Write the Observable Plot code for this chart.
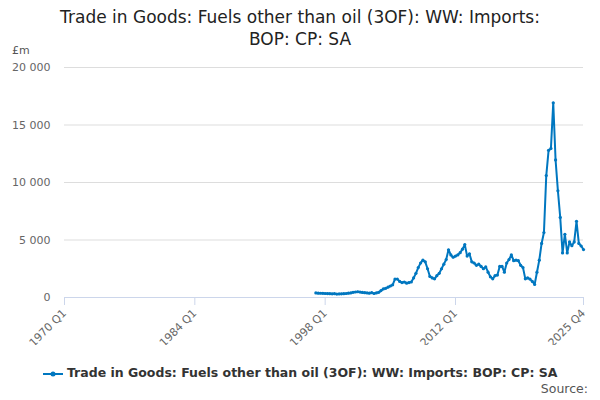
<!DOCTYPE html>
<html><head><meta charset="utf-8">
<script src="https://cdn.jsdelivr.net/npm/d3@7"></script>
<script src="https://cdn.jsdelivr.net/npm/@observablehq/plot@0.6"></script>
<style>
body{margin:0;font-family:"DejaVu Sans",sans-serif;background:#fff;width:600px;height:400px;overflow:hidden;position:relative}
#title{height:55px;text-align:center;font-size:17px;line-height:22px;color:#222;padding-top:6px;box-sizing:border-box}
#legend{position:absolute;top:365px;left:0;width:600px;text-align:center;font-size:12.5px;font-weight:bold;color:#333}
#source{position:absolute;top:381px;right:12px;font-size:12.5px;color:#555}
#unit{position:absolute;top:44px;left:12px;font-size:11px;color:#555}
</style></head><body>
<div id="title">Trade in Goods: Fuels other than oil (3OF): WW: Imports:<br>BOP: CP: SA</div>
<div id="unit">£m</div>
<div id="chart"></div>
<div id="legend"><svg width="20" height="10" style="vertical-align:middle"><line x1="0" y1="5" x2="20" y2="5" stroke="#0077c0" stroke-width="2"/><circle cx="10" cy="5" r="2.5" fill="#0077c0"/></svg> Trade in Goods: Fuels other than oil (3OF): WW: Imports: BOP: CP: SA</div>
<div id="source">Source:</div>
<script>
const startYear = 1997;
const values = [
400,380,370,360, 350,340,330,320, 330,300,310,320, 330,350,380,400,
450,480,500,470, 440,420,400,380, 420,350,400,450, 600,750,800,900,
1000,1100,1600,1600, 1400,1300,1350,1250, 1300,1350,1700,2100, 2600,3000,3250,3100,
2500,1830,1700,1620, 1900,2100,2500,2900, 3300,4150,3700,3500, 3600,3700,3900,4200,
4600,3600,3800,3100, 3000,2800,2900,2700, 2500,2660,2200,1800, 1620,1900,1950,2700,
2700,2200,3000,3300, 3700,3200,3250,3200, 2800,2600,1620,1700, 1600,1400,1130,2200,
3250,4700,5650,10600, 12800,12960,16930,11960, 9280,6960,3880,5500, 3880,4830,4500,4830,
6630,4700,4480,4170
];
const tickLabels = ["1970 Q1","1984 Q1","1998 Q1","2012 Q1","2025 Q4"];
const tickPos = [1970,1984,1998,2012,2025.75];
const yTicks = [0,5000,10000,15000,20000];
const data = values.map((v,i)=>({t: startYear + i/4, v}));
const fmt = d => d3.format(",")(d).replace(/,/g," ");
const chart = Plot.plot({
  width:600, height:290, marginTop:12, marginBottom:48, marginLeft:64, marginRight:17,
  style:{fontFamily:"DejaVu Sans, sans-serif", fontSize:"11px", color:"#666"},
  x:{domain:[1970,2025.75], label:null},
  y:{domain:[0,20000], label:null},
  marks:[
    Plot.gridY(yTicks,{stroke:"#ddd", strokeOpacity:1}),
    Plot.axisY({ticks:yTicks, tickFormat:fmt, tickSize:0, tickPadding:14, fill:"#666"}),
    Plot.ruleY([0],{stroke:"#ccd6eb"}),
    Plot.axisX({ticks:tickPos, tickFormat:d=>tickLabels[tickPos.indexOf(d)], tickRotate:-45, stroke:"#ccd6eb", tickSize:8, fill:"#666"}),
    Plot.line(data,{x:"t", y:"v", stroke:"#0077c0", strokeWidth:2}),
    Plot.dot(data,{x:"t", y:"v", fill:"#0077c0", r:1.6})
  ]
});
document.getElementById("chart").appendChild(chart);
</script>
</body></html>
